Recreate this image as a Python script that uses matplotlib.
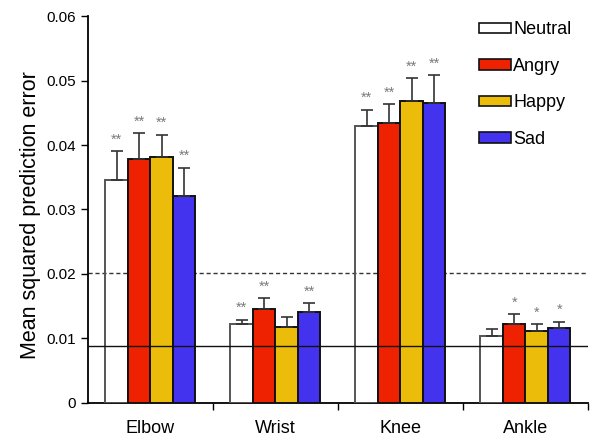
import numpy as np
import matplotlib.pyplot as plt
from matplotlib.patches import Patch

plt.rcParams['font.family'] = ['Liberation Sans', 'DejaVu Sans']

joints = ['Elbow', 'Wrist', 'Knee', 'Ankle']
emotions = ['Neutral', 'Angry', 'Happy', 'Sad']

neutral = [0.0346, 0.0122, 0.0429, 0.0104]
angry = [0.0378, 0.0145, 0.0434, 0.0122]
happy = [0.0381, 0.0118, 0.0468, 0.0112]
sad = [0.0321, 0.0141, 0.0465, 0.0116]

neutral_err = [0.0044, 0.0007, 0.0026, 0.0010]
angry_err = [0.0040, 0.0018, 0.0029, 0.0016]
happy_err = [0.0035, 0.0015, 0.0036, 0.0010]
sad_err = [0.0044, 0.0014, 0.0043, 0.0010]

neutral_sig = ['**', '**', '**', '']
angry_sig = ['**', '**', '**', '*']
happy_sig = ['**', '', '**', '*']
sad_sig = ['**', '**', '**', '*']

dashed_level = 0.0201
solid_level = 0.0088

series = [neutral, angry, happy, sad]
errors = [neutral_err, angry_err, happy_err, sad_err]
sigs = [neutral_sig, angry_sig, happy_sig, sad_sig]
faces = ['none', '#ee2200', '#ebbd0a', '#4433ee']
edges = ['#555555', '#111111', '#111111', '#111111']

fig = plt.figure(figsize=(5.9, 4.41), dpi=100)
ax = fig.add_axes([0.149, 0.0862, 0.8475, 0.8775])

x = np.arange(len(joints))
w = 0.18
for i in range(4):
    pos = x + (i - 1.5) * w
    ax.bar(pos, series[i], w, color=faces[i], edgecolor=edges[i], linewidth=1.4,
           zorder=3, label=emotions[i])
    ax.errorbar(pos, series[i], yerr=[np.zeros(4), errors[i]], fmt='none',
                ecolor='#333333', elinewidth=1.2, capsize=4, capthick=1.2, zorder=4)
    for p, v, e, s in zip(pos, series[i], errors[i], sigs[i]):
        if s:
            ax.text(p, v + e + 0.0007, s, ha='center', va='bottom',
                    color='#7a7a7a', fontsize=10.5, zorder=5)

ax.axhline(dashed_level, color='#333333', linestyle=(0, (3, 2)), linewidth=1, zorder=2)
ax.axhline(solid_level, color='#111111', linewidth=1, zorder=6)

ax.set_xlim(-0.5, 3.5)
ax.set_ylim(0, 0.06)
ax.set_yticks([0, 0.01, 0.02, 0.03, 0.04, 0.05, 0.06])
ax.set_yticklabels(['0', '0.01', '0.02', '0.03', '0.04', '0.05', '0.06'], fontsize=11)
ax.set_xticks([0.5, 1.5, 2.5, 3.5])
ax.set_xticklabels([])
ax.tick_params(axis='x', length=5, width=1)
ax.tick_params(axis='y', length=5, width=1)
for j, name in enumerate(joints):
    ax.text(j, -0.0027, name, ha='center', va='top', fontsize=13,
            transform=ax.transData)
ax.set_ylabel('Mean squared prediction error', fontsize=15.5, labelpad=4)
ax.yaxis.label.set_y(0.485)
ax.spines['top'].set_visible(False)
ax.spines['right'].set_visible(False)
ax.spines['left'].set_linewidth(1.3)
ax.spines['bottom'].set_linewidth(1.3)

handles = [Patch(facecolor=('white' if f == 'none' else f), edgecolor='#111111',
                 linewidth=1.2) for f in faces]
ax.legend(handles, emotions, loc='upper right', bbox_to_anchor=(1.0, 1.028),
          frameon=False, fontsize=13, handlelength=1.75, handleheight=0.5,
          handletextpad=0.15, labelspacing=1.08)

fig.savefig('out.png', dpi=100)
